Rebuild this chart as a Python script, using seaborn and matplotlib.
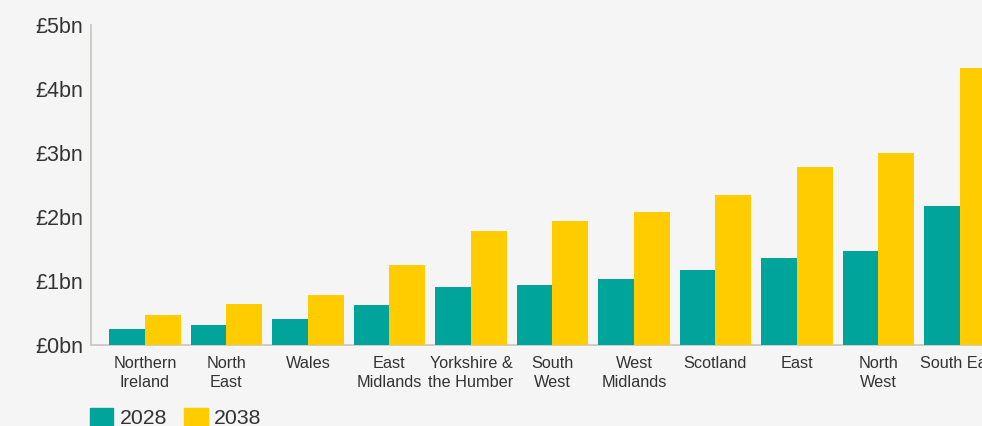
import matplotlib
matplotlib.use("Agg")
import matplotlib.pyplot as plt
import seaborn as sns
import pandas as pd

regions = ["Northern\nIreland", "North\nEast", "Wales", "East\nMidlands",
           "Yorkshire &\nthe Humber", "South\nWest", "West\nMidlands",
           "Scotland", "East", "North\nWest", "South East"]
values_2028 = [0.25, 0.31, 0.41, 0.63, 0.91, 0.94, 1.03, 1.17, 1.36, 1.47, 2.17]
values_2038 = [0.47, 0.64, 0.78, 1.25, 1.78, 1.94, 2.08, 2.34, 2.78, 3.00, 4.33]
years = ["2028", "2038"]
y_ticks = [0, 1, 2, 3, 4, 5]
y_tick_labels = ["£0bn", "£1bn", "£2bn", "£3bn", "£4bn", "£5bn"]

teal = "#00A49A"
yellow = "#FFCC00"
bg = "#F5F5F5"
text_col = "#333333"
axis_col = "#C9C5C1"

df = pd.DataFrame({
    "region": regions * 2,
    "year": [years[0]] * len(regions) + [years[1]] * len(regions),
    "value": values_2028 + values_2038,
})

sns.set_theme(style="white")
plt.rcParams["font.family"] = ["Liberation Sans", "DejaVu Sans"]

fig = plt.figure(figsize=(9.82, 4.26), dpi=100, facecolor=bg)
ax = fig.add_axes([91 / 982, 81 / 426, 891 / 982, 320 / 426])
ax.set_facecolor(bg)

sns.barplot(data=df, x="region", y="value", hue="year", order=regions,
            hue_order=years, palette=[teal, yellow], width=0.88, gap=0,
            saturation=1, linewidth=0, errorbar=None, legend=False, ax=ax)

ax.set_xlim(-0.661, 10.271)
ax.set_ylim(0, 5)
ax.set_yticks(y_ticks)
ax.set_yticklabels(y_tick_labels, fontsize=15.5, color=text_col)
ax.set_xlabel("")
ax.set_ylabel("")
ax.tick_params(axis="x", length=0, pad=8, labelsize=11.7, labelcolor=text_col)
ax.tick_params(axis="y", length=4, width=1, color=axis_col, pad=1.5)
for lab in ax.get_xticklabels():
    lab.set_linespacing(1.3)

for side in ["top", "right"]:
    ax.spines[side].set_visible(False)
for side in ["left", "bottom"]:
    ax.spines[side].set_color(axis_col)
    ax.spines[side].set_linewidth(1.2)
    ax.spines[side].set_zorder(0.5)

handles = [plt.Rectangle((0, 0), 1, 1, color=c) for c in (teal, yellow)]
fig.legend(handles, years, loc="upper left", bbox_to_anchor=(90 / 982, 1 - 408 / 426),
           ncol=2, frameon=False, fontsize=15.3, handlelength=1.1, handleheight=0.9,
           handletextpad=0.3, columnspacing=0.8, labelcolor=text_col,
           borderaxespad=0, borderpad=0)

fig.savefig("out.png", dpi=100, facecolor=bg)
